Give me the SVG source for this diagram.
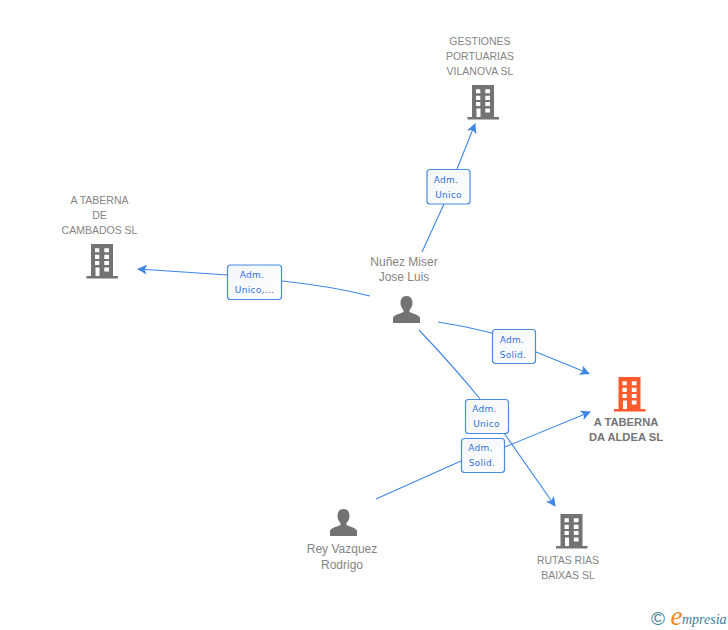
<svg xmlns="http://www.w3.org/2000/svg" width="728" height="630" viewBox="0 0 728 630">
<style>
.t{font-family:"Liberation Sans",Arial,sans-serif;font-size:10.5px;fill:#858585;text-anchor:middle}
.p{font-size:12px}
.o{font-weight:bold;fill:#737373;font-size:11.200px}
.c{fill:none;stroke:#3f86e6;stroke-width:1.1}
.b{fill:url(#g);stroke:#4a8ae0;stroke-width:1.2}
.l{font-family:"DejaVu Sans",Verdana,sans-serif;font-size:9px;fill:#2f70dc;text-anchor:middle;letter-spacing:.3px}
</style>
<defs>
<linearGradient id="g" x1="0" y1="0" x2="1" y2="1"><stop offset="0" stop-color="#f3f5f8"/><stop offset="1" stop-color="#ffffff"/></linearGradient>
<marker id="a" viewBox="0 0 10 10" refX="9" refY="5" markerWidth="10" markerHeight="10" markerUnits="userSpaceOnUse" orient="auto"><path d="M0 0L10 5L0 10L2.5 5Z" fill="#3f86e6"/></marker>
<path id="bd" fill-rule="evenodd" d="M0 0H22V32H27V34.5H-4.5V32H0ZM4 4.3V8.3H8.3V4.3ZM13.3 4.3V8.3H18V4.3ZM4 10.8V15H8.3V10.8ZM13.3 10.8V15H18V10.8ZM4 17V21H8.3V17ZM13.3 17V21H18V17ZM4.5 23.5V32H8.5V23.5ZM13.3 23.5V27.5H18V23.5Z"/>
<path id="pr" d="M13.5 0C9 0 7.5 3.5 7.5 7C7.5 10 9 12.5 10.5 14V16C8 17.5 1 18.5 0 22V27H27V22C26 18.500 19 17.500 16.500 16V14C18 12.500 19.500 10 19.500 7C19.500 3.500 18 0 13.500 0Z"/>
</defs>
<g id="connectors">
<path class="c" d="M422 252L444 204"/>
<path class="c" d="M457 169L475 124" marker-end="url(#a)"/>
<path class="c" d="M370 296Q330 286 282 281"/>
<path class="c" d="M228 275L138 269" marker-end="url(#a)"/>
<path class="c" d="M438 322Q465 326 492 333"/>
<path class="c" d="M536 352L589 373.500" marker-end="url(#a)"/>
<path class="c" d="M419 330Q455 368 480 399"/>
<path class="c" d="M504 433L555 506" marker-end="url(#a)"/>
<path class="c" d="M376 499L461 461"/>
<path class="c" d="M505 447L590 412" marker-end="url(#a)"/>
</g>
<g id="n-gestiones">
<use href="#bd" x="472" y="85" fill="#737373"/>
<text class="t"><tspan x="480" y="45">GESTIONES</tspan><tspan x="480" y="60">PORTUARIAS</tspan><tspan x="480" y="75">VILANOVA SL</tspan></text>
</g>
<g id="n-cambados">
<use href="#bd" x="91" y="244" fill="#737373"/>
<text class="t"><tspan x="99.500" y="204">A TABERNA</tspan><tspan x="99.500" y="219">DE</tspan><tspan x="99.500" y="234">CAMBADOS SL</tspan></text>
</g>
<g id="n-nunez">
<use href="#pr" x="393" y="296" fill="#737373"/>
<text class="t p"><tspan x="404" y="266">Nuñez Miser</tspan><tspan x="404" y="281">Jose Luis</tspan></text>
</g>
<g id="n-aldea">
<use href="#bd" x="618.500" y="377" fill="#ff5a2c"/>
<text class="t o"><tspan x="626" y="426">A TABERNA</tspan><tspan x="626" y="441">DA ALDEA SL</tspan></text>
</g>
<g id="n-rey">
<use href="#pr" x="330" y="509" fill="#737373"/>
<text class="t p"><tspan x="342" y="553">Rey Vazquez</tspan><tspan x="342" y="569">Rodrigo</tspan></text>
</g>
<g id="n-rutas">
<use href="#bd" x="560.500" y="514" fill="#737373"/>
<text class="t"><tspan x="568" y="564">RUTAS RIAS</tspan><tspan x="568" y="579">BAIXAS SL</tspan></text>
</g>
<g id="e1"><rect class="b" x="427" y="169.500" width="43" height="34.500" rx="3"/><text class="l"><tspan x="446" y="183">Adm.</tspan><tspan x="448.500" y="198">Unico</tspan></text></g>
<g id="e2"><rect class="b" x="227.500" y="265" width="54" height="34.500" rx="3"/><text class="l"><tspan x="252" y="278">Adm.</tspan><tspan x="254.500" y="293">Unico,...</tspan></text></g>
<g id="e3"><rect class="b" x="492.500" y="329.500" width="43" height="34" rx="3"/><text class="l"><tspan x="512" y="343">Adm.</tspan><tspan x="513" y="358">Solid.</tspan></text></g>
<g id="e4"><rect class="b" x="465.500" y="399.500" width="43" height="34" rx="3"/><text class="l"><tspan x="484.500" y="412">Adm.</tspan><tspan x="486.500" y="427">Unico</tspan></text></g>
<g id="e5"><rect class="b" x="461.500" y="438.500" width="43" height="34" rx="3"/><text class="l"><tspan x="480.500" y="451">Adm.</tspan><tspan x="482" y="466">Solid.</tspan></text></g>
<g id="logo">
<text x="658" y="625" font-family="'Liberation Sans',sans-serif" font-size="19" fill="#3f7f96" text-anchor="middle">©</text>
<text x="670.500" y="625" font-family="'Liberation Serif',serif" font-style="italic" font-size="27" fill="#f08a1d">e</text>
<text x="682" y="624" font-family="'Liberation Serif',serif" font-style="italic" font-size="14" fill="#3f7f96">mpresia</text>
</g>
</svg>
